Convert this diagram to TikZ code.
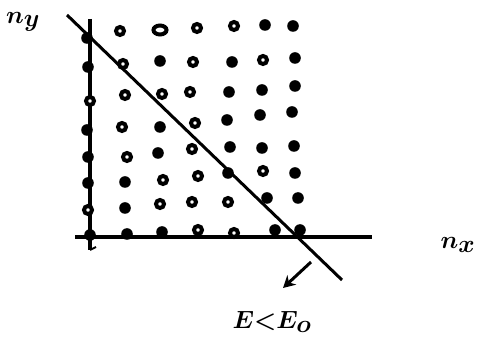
\documentclass[tikz,border=0pt]{standalone}
\usetikzlibrary{arrows.meta}
\begin{document}
\begin{tikzpicture}[x=1pt,y=-1pt,
  axisline/.style={line width=3.2pt},
  fdot/.style={fill=black},
  hdot/.style={draw=black,line width=4pt,fill=white},
  lab/.style={inner sep=0pt,font=\fontsize{36}{36}\selectfont\boldmath}]
\useasboundingbox (0,0) rectangle (485,344);
% axes
\coordinate (ytop) at (90,19);
\coordinate (ybot) at (90,250);
\coordinate (xl) at (75,237);
\coordinate (xr) at (372,237);
\draw[axisline] (ytop) -- (ybot);
\draw[axisline] (xl) -- (xr);
\draw[line width=2pt] (ybot) -- ++(6,-3);
% diagonal line
\coordinate (d1) at (67,15);
\coordinate (d2) at (342,280);
\draw[line width=3pt] (d1) -- (d2);
% dots: filled
\foreach \px/\py in {87/38,265/25,293/26,
  88/67,160/61,232/62,295/58,
  229/92,262/90,295/86,
  87/130,160/127,227/120,260/115,292/112,
  88/157,158/153,230/147,262/148,294/146,
  88/183,125/182,228/173,295/173,
  125/208,267/198,298/198,
  90/235,127/234,162/232,275/230,300/230}
  \fill[fdot] (\px,\py) circle[radius=5.8];
% dots: hollow
\foreach \px/\py in {120/31,197/28,234/26,
  123/64,193/62,263/60,
  90/101,125/95,162/94,190/92,
  122/127,195/123,
  127/157,192/149,
  163/180,198/176,263/171,
  88/210,160/204,192/202,228/202,
  198/230,234/233}
  \draw[hdot] (\px,\py) circle[radius=4];
\draw[hdot] (160,30) ellipse[x radius=6.5,y radius=4.5];
% arrow
\coordinate (a1) at (311,262);
\coordinate (a2) at (283,288);
\draw[line width=3pt,-{Stealth[length=12pt,width=13pt]}] (a1) -- (a2);
% labels
\node[lab] (ny) at (23,22) {$n_y$};
\node[lab] (nx) at (458,245) {$n_x$};
\node[lab] (E) at (272,322) {$E{<}E_o$};
\end{tikzpicture}
\end{document}
